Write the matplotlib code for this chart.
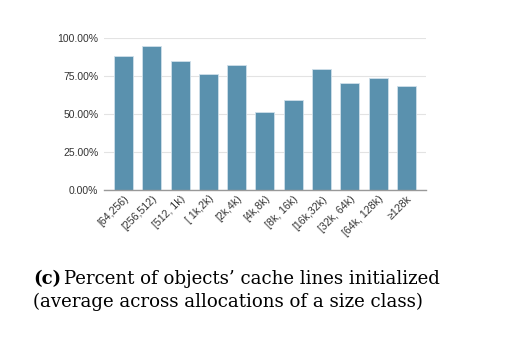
import matplotlib.pyplot as plt
from matplotlib.ticker import PercentFormatter

# Size classes (bytes) and fraction of cache lines initialized
size_classes = ["[64,256)", "[256,512)", "[512, 1k)", "[ 1k,2k)", "[2k,4k)", "[4k,8k)",
                "[8k, 16k)", "[16k,32k)", "[32k, 64k)", "[64k, 128k)", "\u2265128k"]
pct_initialized = [88.5, 94.9, 85.2, 76.2, 82.2, 51.3, 59.5, 79.7, 70.7, 73.6, 68.3]
y_ticks = [0, 25, 50, 75, 100]

plt.rcParams['font.family'] = ['Liberation Sans', 'DejaVu Sans']

fig = plt.figure(figsize=(5.17, 3.41), dpi=100)
ax = fig.add_axes([0.201, 0.444, 0.623, 0.444])

x = range(len(size_classes))
ax.bar(x, pct_initialized, width=0.67, color='#5a91ae', edgecolor='#cfe0ea',
       linewidth=0.6, zorder=3)

ax.set_xlim(-0.69, len(size_classes) - 1 + 0.69)
ax.set_ylim(0, 100)
ax.set_yticks(y_ticks)
ax.yaxis.set_major_formatter(PercentFormatter(decimals=2))
ax.grid(axis='y', color='#e3e3e3', linewidth=0.8, zorder=0)

for side in ['top', 'right', 'left']:
    ax.spines[side].set_visible(False)
ax.spines['bottom'].set_color('#999999')
ax.spines['bottom'].set_linewidth(1.0)
ax.spines['bottom'].set_zorder(4)

ax.tick_params(axis='y', length=0, labelsize=7.5, colors='#333333', pad=4)
ax.tick_params(axis='x', length=0, labelsize=7.7, colors='#333333', pad=3)
ax.set_xticks(list(x))
ax.set_xticklabels(size_classes, rotation=45, ha='right', rotation_mode='anchor')

# Caption below the chart, bold sub-figure tag followed by plain text
serif = ['DejaVu Serif']
cap_size = 13.1
tag = fig.text(0.064, 0.167, "(c)", fontsize=cap_size, fontweight='bold', family=serif,
               va='baseline')
fig.canvas.draw()
bb = tag.get_window_extent(renderer=fig.canvas.get_renderer())
x_next = (bb.x1 + 3) / fig.bbox.width
fig.text(x_next, 0.167, "Percent of objects\u2019 cache lines initialized",
         fontsize=cap_size, family=serif, va='baseline')
fig.text(0.064, 0.1, "(average across allocations of a size class)",
         fontsize=cap_size, family=serif, va='baseline')

fig.savefig("out.png", dpi=100)
